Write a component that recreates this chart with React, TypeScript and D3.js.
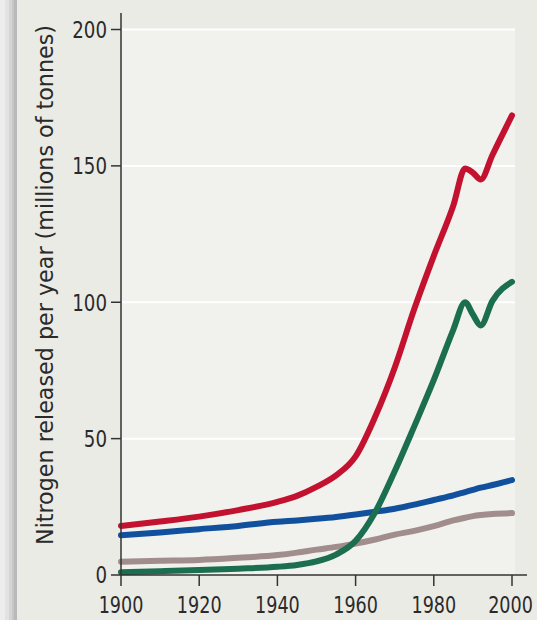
import React from "react";
import * as d3 from "d3";

const years = [1900, 1910, 1920, 1930, 1940, 1945, 1950, 1955, 1960, 1965, 1970, 1975, 1980, 1985, 1988, 1990, 1992, 1995, 2000];
const redValues = [18, 19.6, 21.4, 23.8, 26.8, 29, 32.3, 36.5, 43.5, 58, 76, 97.5, 117, 135.5, 149, 147.5, 145, 154, 168.5];
const greenValues = [1, 1.4, 1.8, 2.3, 3, 3.7, 5, 7.5, 12.5, 23, 38, 54.5, 71.5, 90, 100, 95.5, 91.5, 100.5, 107.5];
const blueValues = [14.6, 15.6, 16.8, 18, 19.5, 20, 20.6, 21.3, 22.2, 23.2, 24.3, 25.8, 27.5, 29.2, 30.4, 31.2, 32, 33, 34.8];
const brownValues = [4.9, 5.2, 5.5, 6.3, 7.3, 8.2, 9.3, 10.3, 11.5, 13, 14.8, 16.2, 17.9, 20, 21, 21.6, 22, 22.4, 22.7];
const xTicks = [1900, 1920, 1940, 1960, 1980, 2000];
const yTicks = [0, 50, 100, 150, 200];
const yLabel = "Nitrogen released per year (millions of tonnes)";

const series = [
  { name: "brown", values: brownValues, color: "#a18d8b" },
  { name: "blue", values: blueValues, color: "#11509c" },
  { name: "green", values: greenValues, color: "#1c6e50" },
  { name: "red", values: redValues, color: "#c2122f" },
];

const W = 537;
const H = 620;
const x0 = 121;
const x1 = 512;
const yBottom = 575;
const yTop = 29.5;

export default function App() {
  const x = d3.scaleLinear().domain([1900, 2000]).range([x0, x1]);
  const y = d3.scaleLinear().domain([0, 200]).range([yBottom, yTop]);
  const line = (vals: number[]) =>
    d3
      .line<number>()
      .x((_, i) => x(years[i]))
      .y((d) => y(d))
      .curve(d3.curveMonotoneX)(vals) || "";
  const font = "'DejaVu Sans Condensed', 'Liberation Sans Narrow', sans-serif";
  return (
    <svg
      width={W}
      height={H}
      style={{ position: "absolute", left: 0, top: 0, display: "block" }}
    >
      <rect x={0} y={0} width={W} height={H} fill="#ebebe6" />
      <rect x={0} y={0} width={5} height={H} fill="#ededed" />
      <rect x={5} y={0} width={4} height={H} fill="#e2e2e2" />
      <rect x={9} y={0} width={3} height={H} fill="#d4d4d4" />
      <rect x={12} y={0} width={2} height={H} fill="#c6c6c6" />
      <rect x={14} y={0} width={3} height={H} fill="#b9b9b9" />
      <rect x={x0} y={yTop} width={515 - x0} height={yBottom - yTop} fill="#f1f1ed" />
      {yTicks.filter((t) => t > 0).map((t) => (
        <line key={"g" + t} x1={x0} x2={515} y1={y(t)} y2={y(t)} stroke="#ffffff" strokeWidth={2} />
      ))}
      {series.map((s) => (
        <path
          key={s.name}
          d={line(s.values)}
          fill="none"
          stroke={s.color}
          strokeWidth={6}
          strokeLinecap="round"
          strokeLinejoin="round"
        />
      ))}
      <line x1={x0} x2={x0} y1={13} y2={yBottom} stroke="#333" strokeWidth={1.5} />
      <line x1={x0} x2={527} y1={yBottom} y2={yBottom} stroke="#333" strokeWidth={1.5} />
      {yTicks.map((t) => (
        <g key={"y" + t}>
          <line x1={x0 - 10} x2={x0} y1={y(t)} y2={y(t)} stroke="#333" strokeWidth={1.5} />
          <text
            transform={`translate(${x0 - 14},${y(t)}) scale(0.88,1)`}
            dy="0.36em"
            textAnchor="end"
            fontFamily={font}
            fontSize={23}
            fill="#2a2a2a"
          >
            {t}
          </text>
        </g>
      ))}
      {xTicks.map((t) => (
        <g key={"x" + t}>
          <line x1={x(t)} x2={x(t)} y1={yBottom} y2={yBottom + 11} stroke="#333" strokeWidth={1.5} />
          <text
            transform={`translate(${Math.min(x(t), 510.5)},613) scale(0.85,1)`}
            textAnchor="middle"
            fontFamily={font}
            fontSize={23}
            fill="#2a2a2a"
          >
            {t}
          </text>
        </g>
      ))}
      <text
        transform="translate(53,285) rotate(-90)"
        textAnchor="middle"
        fontFamily={font}
        fontSize={23}
        fill="#2a2a2a"
        textLength={520}
        lengthAdjust="spacingAndGlyphs"
      >
        {yLabel}
      </text>
    </svg>
  );
}
